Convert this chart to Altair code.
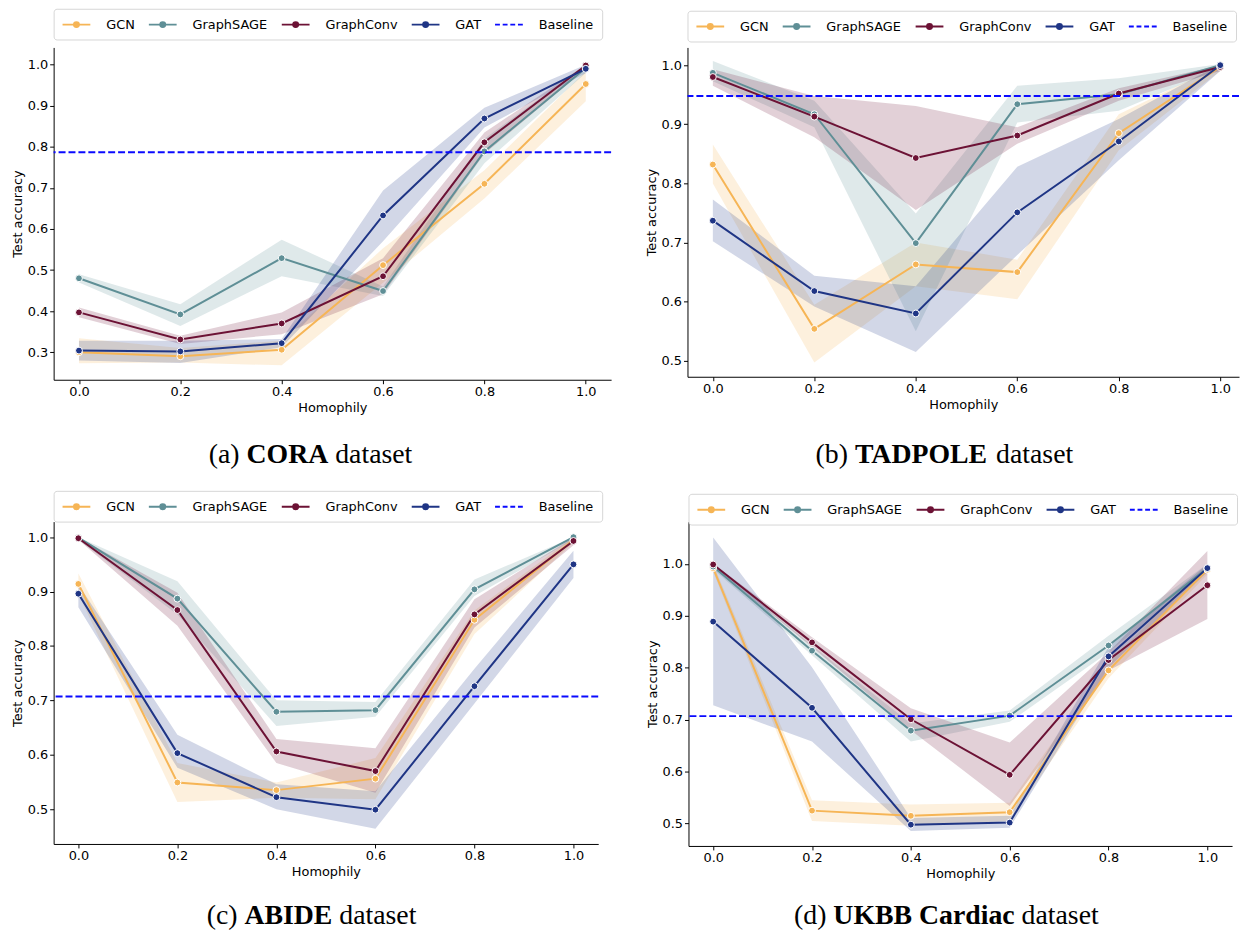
import altair as alt
import pandas as pd

X = [0.0, 0.2, 0.4, 0.6, 0.8, 1.0]
MODELS = ["GCN", "GraphSAGE", "GraphConv", "GAT"]
COLORS = ["#F6B556", "#5F8F96", "#6C1235", "#1F3585"]
BASELINE_LABEL = "Baseline"
BASELINE_COLOR = "#0a0aff"

# ---------------- CORA ----------------
CORA_MEAN = {
    "GCN":       [0.300, 0.290, 0.306, 0.512, 0.710, 0.953],
    "GraphSAGE": [0.480, 0.392, 0.529, 0.449, 0.789, 0.992],
    "GraphConv": [0.397, 0.331, 0.370, 0.485, 0.811, 0.998],
    "GAT":       [0.304, 0.302, 0.322, 0.633, 0.869, 0.990],
}
CORA_LO = {
    "GCN":       [0.273, 0.275, 0.268, 0.469, 0.674, 0.911],
    "GraphSAGE": [0.470, 0.364, 0.485, 0.437, 0.760, 0.980],
    "GraphConv": [0.385, 0.320, 0.344, 0.441, 0.783, 0.990],
    "GAT":       [0.280, 0.274, 0.312, 0.570, 0.847, 0.980],
}
CORA_HI = {
    "GCN":       [0.334, 0.310, 0.328, 0.553, 0.743, 0.984],
    "GraphSAGE": [0.490, 0.417, 0.574, 0.460, 0.820, 1.000],
    "GraphConv": [0.409, 0.340, 0.397, 0.529, 0.835, 1.000],
    "GAT":       [0.328, 0.328, 0.332, 0.694, 0.895, 1.000],
}

# ---------------- TADPOLE ----------------
TADPOLE_MEAN = {
    "GCN":       [0.832, 0.554, 0.663, 0.650, 0.885, 0.997],
    "GraphSAGE": [0.987, 0.917, 0.699, 0.934, 0.951, 1.000],
    "GraphConv": [0.980, 0.913, 0.843, 0.881, 0.952, 0.997],
    "GAT":       [0.737, 0.618, 0.580, 0.751, 0.871, 1.000],
}
TADPOLE_LO = {
    "GCN":       [0.800, 0.497, 0.626, 0.604, 0.856, 0.990],
    "GraphSAGE": [0.973, 0.895, 0.550, 0.903, 0.923, 0.995],
    "GraphConv": [0.965, 0.878, 0.755, 0.867, 0.940, 0.990],
    "GAT":       [0.702, 0.592, 0.515, 0.679, 0.839, 0.990],
}
TADPOLE_HI = {
    "GCN":       [0.866, 0.595, 0.700, 0.671, 0.917, 1.000],
    "GraphSAGE": [1.007, 0.940, 0.749, 0.965, 0.978, 1.002],
    "GraphConv": [0.993, 0.948, 0.931, 0.895, 0.961, 1.000],
    "GAT":       [0.773, 0.644, 0.626, 0.828, 0.909, 1.002],
}

# ---------------- ABIDE ----------------
ABIDE_MEAN = {
    "GCN":       [0.914, 0.549, 0.535, 0.556, 0.848, 0.995],
    "GraphSAGE": [0.999, 0.887, 0.679, 0.682, 0.904, 1.000],
    "GraphConv": [0.998, 0.866, 0.606, 0.570, 0.858, 0.993],
    "GAT":       [0.896, 0.603, 0.522, 0.499, 0.726, 0.950],
}
ABIDE_LO = {
    "GCN":       [0.895, 0.513, 0.521, 0.518, 0.822, 0.990],
    "GraphSAGE": [0.995, 0.858, 0.653, 0.670, 0.892, 0.995],
    "GraphConv": [0.995, 0.837, 0.585, 0.530, 0.834, 0.985],
    "GAT":       [0.871, 0.576, 0.500, 0.464, 0.694, 0.925],
}
ABIDE_HI = {
    "GCN":       [0.933, 0.585, 0.549, 0.594, 0.865, 1.000],
    "GraphSAGE": [1.000, 0.919, 0.700, 0.697, 0.922, 1.000],
    "GraphConv": [1.000, 0.898, 0.629, 0.612, 0.886, 1.000],
    "GAT":       [0.913, 0.637, 0.546, 0.533, 0.758, 0.975],
}

# ---------------- UKBB Cardiac ----------------
UKBB_MEAN = {
    "GCN":       [0.992, 0.525, 0.515, 0.522, 0.795, 0.989],
    "GraphSAGE": [0.995, 0.833, 0.679, 0.708, 0.843, 0.992],
    "GraphConv": [0.999, 0.849, 0.701, 0.594, 0.815, 0.959],
    "GAT":       [0.889, 0.723, 0.498, 0.502, 0.822, 0.992],
}
UKBB_LO = {
    "GCN":       [0.985, 0.505, 0.496, 0.505, 0.780, 0.980],
    "GraphSAGE": [0.990, 0.824, 0.658, 0.696, 0.830, 0.985],
    "GraphConv": [0.995, 0.840, 0.680, 0.534, 0.795, 0.894],
    "GAT":       [0.728, 0.658, 0.486, 0.492, 0.800, 0.985],
}
UKBB_HI = {
    "GCN":       [1.000, 0.545, 0.537, 0.540, 0.810, 1.000],
    "GraphSAGE": [1.000, 0.843, 0.693, 0.718, 0.862, 1.000],
    "GraphConv": [1.000, 0.859, 0.722, 0.656, 0.830, 1.025],
    "GAT":       [1.051, 0.801, 0.511, 0.515, 0.840, 1.000],
}

BASELINES = [0.787, 0.948, 0.707, 0.707]
CAPTION_LETTERS = ["(a)", "(b)", "(c)", "(d)"]
DATASET_NAMES = ["CORA", "TADPOLE", "ABIDE", "UKBB Cardiac"]
CAPTION_SUFFIX = "dataset"

# ---------------- styling helpers ----------------
FONT = "DejaVu Sans"
SERIF = "Liberation Serif"
CAP_SIZE = 28

TIMES_REG = {"(": 333, ")": 333, "a": 444, "b": 500, "c": 444, "d": 500, " ": 250,
             "t": 278, "s": 389, "e": 444}
TIMES_BOLD = {"C": 722, "O": 778, "R": 722, "A": 722, "T": 667, "D": 722, "P": 611,
              "L": 667, "E": 667, "B": 667, "I": 389, "U": 722, "K": 778, " ": 250,
              "a": 500, "r": 444, "d": 556, "i": 278, "c": 444}


def tw(s, table, size):
    return sum(table.get(ch, 500) for ch in s) * size / 1000.0


ALL_SERIES = MODELS + [BASELINE_LABEL]
ALL_COLORS = COLORS + [BASELINE_COLOR]

LINE_DOT = ("M-2,0L2,0M-0.36,0A0.36,0.36,0,1,1,0.36,0"
            "A0.36,0.36,0,1,1,-0.36,0Z")
DASHES = "M-2,0L-1.3,0M-0.9,0L-0.2,0M0.2,0L0.9,0M1.3,0L2,0"
SHAPES = [LINE_DOT] * 4 + [DASHES]


def make_df(mean, lo, hi):
    rows = []
    for m in MODELS:
        for i, xv in enumerate(X):
            rows.append({"model": m, "x": xv, "mean": mean[m][i],
                         "lo": lo[m][i], "hi": hi[m][i]})
    return pd.DataFrame(rows)


def panel(idx, mean, lo, hi, ydom, yticks, w, h, xdom, leg_offset, cap_center, cap_base):
    df = make_df(mean, lo, hi)
    xs = alt.Scale(domain=xdom, nice=False, zero=False)
    ys = alt.Scale(domain=ydom, nice=False, zero=False)
    xaxis = alt.Axis(values=X, format=".1f", title="Homophily")
    yaxis = alt.Axis(values=yticks, format=".1f", title="Test accuracy")
    cscale = alt.Scale(domain=MODELS, range=COLORS)

    def xe():
        return alt.X("x:Q", scale=xs, axis=xaxis)

    def ye(field):
        return alt.Y(f"{field}:Q", scale=ys, axis=yaxis)

    col = alt.Color("model:N", scale=cscale, legend=None)
    base = alt.Chart(df)

    band = base.mark_area(fillOpacity=0.2).encode(
        x=xe(), y=ye("lo"), y2="hi:Q", color=col)
    line = base.mark_line(strokeWidth=2).encode(x=xe(), y=ye("mean"), color=col)
    pts = base.mark_point(filled=True, size=48, opacity=1, stroke="white",
                          strokeWidth=1).encode(x=xe(), y=ye("mean"), color=col)

    bdf = pd.DataFrame({"model": [BASELINE_LABEL], "mean": [BASELINES[idx]]})
    rule = alt.Chart(bdf).mark_rule(strokeDash=[7, 3], strokeWidth=2,
                                    color=BASELINE_COLOR).encode(y=ye("mean"))

    legend = alt.Legend(
        title=None, orient="top", offset=leg_offset,
        direction="horizontal", columns=5, symbolSize=196, symbolStrokeWidth=2,
        symbolOffset=7, labelOffset=22, columnPadding=10, padding=8,
        strokeColor="#d6d6d6", fillColor="white", cornerRadius=3,
        labelFont=FONT, labelFontSize=13, labelColor="black")
    ldf = pd.DataFrame({"model": ALL_SERIES, "x": [0.5] * 5, "mean": [-5.0] * 5})
    lscale_c = alt.Scale(domain=ALL_SERIES, range=ALL_COLORS)
    leg = alt.Chart(ldf).mark_point(clip=True, opacity=1, filled=True,
                                    strokeWidth=2).encode(
        x=xe(), y=ye("mean"),
        fill=alt.Fill("model:N", scale=lscale_c, legend=legend),
        stroke=alt.Stroke("model:N", scale=lscale_c, legend=legend),
        shape=alt.Shape("model:N", scale=alt.Scale(domain=ALL_SERIES, range=SHAPES),
                        legend=legend),
    )

    # caption made of three pieces: "(a) " + bold name + " dataset"
    letter = CAPTION_LETTERS[idx]
    name = DATASET_NAMES[idx]
    w1 = tw(letter + " ", TIMES_REG, CAP_SIZE)
    w2 = tw(name, TIMES_BOLD, CAP_SIZE)
    w3 = tw(" " + CAPTION_SUFFIX, TIMES_REG, CAP_SIZE)
    x0 = cap_center - (w1 + w2 + w3) / 2.0
    cdf = pd.DataFrame({"letter": [letter], "name": [name], "suffix": [CAPTION_SUFFIX]})
    cbase = alt.Chart(cdf)
    c1 = cbase.mark_text(font=SERIF, fontSize=CAP_SIZE, align="left",
                         baseline="alphabetic", color="black").encode(
        text="letter:N", x=alt.value(x0), y=alt.value(cap_base))
    c2 = cbase.mark_text(font=SERIF, fontSize=CAP_SIZE, fontWeight="bold", align="left",
                         baseline="alphabetic", color="black").encode(
        text="name:N", x=alt.value(x0 + w1), y=alt.value(cap_base))
    c3 = cbase.mark_text(font=SERIF, fontSize=CAP_SIZE, align="left",
                         baseline="alphabetic", color="black").encode(
        text="suffix:N", x=alt.value(x0 + w1 + w2 + tw(" ", TIMES_REG, CAP_SIZE)),
        y=alt.value(cap_base))

    return alt.layer(band, line, pts, rule, leg, c1, c2, c3).properties(
        width=w, height=h)


Y_A = [0.3, 0.4, 0.5, 0.6, 0.7, 0.8, 0.9, 1.0]
Y_B = [0.5, 0.6, 0.7, 0.8, 0.9, 1.0]

pa = panel(0, CORA_MEAN, CORA_LO, CORA_HI, [0.233, 1.042], Y_A, 562, 335,
           [-0.05, 1.05], 8, 259, 419)
pb = panel(1, TADPOLE_MEAN, TADPOLE_LO, TADPOLE_HI, [0.473, 1.030], Y_B, 556, 332,
           [-0.05, 1.037], 6, 259, 419)
pc = panel(2, ABIDE_MEAN, ABIDE_LO, ABIDE_HI, [0.436, 1.0286], Y_B, 549, 325,
           [-0.05, 1.05], 0, 260, 406)
pd_ = panel(3, UKBB_MEAN, UKBB_LO, UKBB_HI, [0.457, 1.0816], Y_B, 548, 327,
            [-0.05, 1.05], -3, 260, 406)

RES = dict(x="independent", y="independent", color="independent",
           fill="independent", stroke="independent", shape="independent")

row1 = alt.hconcat(pa, pb, spacing=33).resolve_scale(**RES)
row2 = alt.hconcat(pc, pd_, spacing=43).resolve_scale(**RES)

chart = alt.vconcat(row1, row2, spacing=21).resolve_scale(**RES).properties(
    padding={"left": 3, "top": -4, "right": 0, "bottom": 0}
).configure_view(stroke=None).configure_axis(
    grid=False, domainColor="black", domainWidth=1, tickColor="black",
    tickSize=4, tickWidth=1, labelFont=FONT, labelFontSize=13, labelColor="black",
    titleFont=FONT, titleFontSize=13, titleFontWeight="normal", titleColor="black",
    labelPadding=2, titlePadding=3
)

chart.save("out.html", embed_options={"renderer": "svg", "actions": False})
